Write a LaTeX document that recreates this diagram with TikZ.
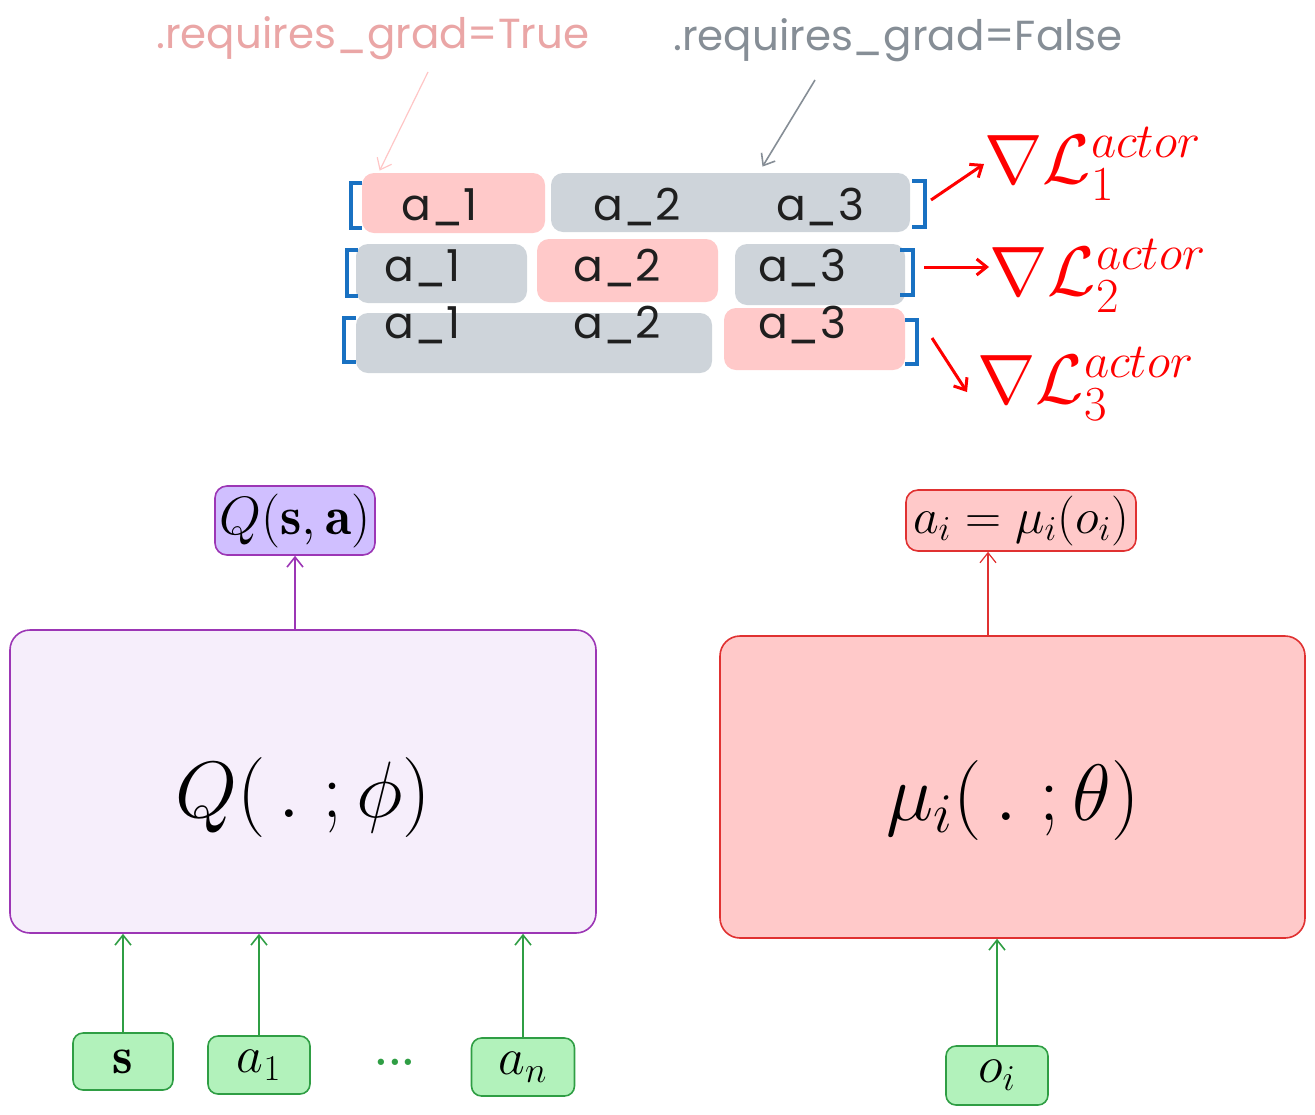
\RequirePackage{fix-cm}
\documentclass[tikz,border=0pt]{standalone}
\usepackage{amsfonts, amssymb, amsmath}
\usepackage{fontspec}
\newfontfamily\hand{Poppins}
\usetikzlibrary{arrows.meta}
\definecolor{pinkfill}{HTML}{FFC9C9}
\definecolor{greyfill}{HTML}{CED4DA}
\definecolor{truetext}{RGB}{234,166,166}
\definecolor{falsetext}{HTML}{868E96}
\definecolor{bracket}{HTML}{1971C2}
\definecolor{purp}{HTML}{9C36B5}
\definecolor{purpfill}{HTML}{D0BFFF}
\definecolor{lavender}{RGB}{246,238,251}
\definecolor{redline}{HTML}{E03131}
\definecolor{grn}{HTML}{2F9E44}
\definecolor{grnfill}{HTML}{B2F2BB}
\tikzset{hd/.style={font=\hand\fontsize{21}{21}\selectfont}}
\tikzset{cell/.style={font=\hand\fontsize{22}{22}\selectfont, text=black!88}}
\tikzset{pk/.style={fill=pinkfill, rounded corners=6pt, inner sep=0pt}}
\tikzset{gy/.style={fill=greyfill, rounded corners=6pt, inner sep=0pt}}
\tikzset{brk/.style={bracket, line width=2pt}}
\tikzset{loss/.style={red, inner sep=0pt, anchor=west, font=\fontsize{35}{40}\selectfont}}
\tikzset{inp/.style={draw=grn, fill=grnfill, rounded corners=5pt, line width=0.8pt, font=\fontsize{26}{26}\selectfont}}
\tikzset{tip/.style={-{Straight Barb[length=5pt,width=8pt]}}}

\begin{document}
\begin{tikzpicture}[x=0.5pt,y=-0.5pt]
  \useasboundingbox (0,0) rectangle (1315,1114);

  \node[hd, text=truetext] (rgT) at (373,38) {.requires\_grad=True};
  \node[hd, text=falsetext] (rgF) at (898,40) {.requires\_grad=False};
  \coordinate (tT) at (428,72);
  \coordinate (tF) at (815,80);

  % row 1
  \node[pk, minimum width=91.5pt, minimum height=30pt] (p1) at (453.5,203) {};
  \node[gy, minimum width=179.5pt, minimum height=29.5pt] (g1) at (730.5,202.5) {};
  \node[cell] (a11) at (440,207) {a\_1};
  \node[cell] (a12) at (637,207) {a\_2};
  \node[cell] (a13) at (820,207) {a\_3};
  \draw[brk] (362,183) -- (351,183) -- (351,228) -- (362,228);
  \draw[brk] (912,181) -- (925,181) -- (925,227) -- (912,227);

  % row 2
  \node[gy, minimum width=85.5pt, minimum height=29.5pt] (g21) at (441.5,273.5) {};
  \node[pk, minimum width=90.5pt, minimum height=31.5pt] (p2) at (627.5,270.5) {};
  \node[gy, minimum width=85pt, minimum height=30.5pt] (g23) at (820,274.5) {};
  \node[cell] (a21) at (423,268) {a\_1};
  \node[cell] (a22) at (617,268) {a\_2};
  \node[cell] (a23) at (802,268) {a\_3};
  \draw[brk] (358,250) -- (347,250) -- (347,296) -- (358,296);
  \draw[brk] (900,250) -- (913,250) -- (913,295) -- (900,295);

  % row 3
  \node[gy, minimum width=178pt, minimum height=30pt] (g3) at (534,343) {};
  \node[pk, minimum width=90.5pt, minimum height=31pt] (p3) at (814.5,339) {};
  \node[cell] (a31) at (423,325) {a\_1};
  \node[cell] (a32) at (617,325) {a\_2};
  \node[cell] (a33) at (802,325) {a\_3};
  \draw[brk] (356,318) -- (344,318) -- (344,362) -- (356,362);
  \draw[brk] (905,320) -- (917,320) -- (917,364) -- (905,364);

  \draw[tip, pinkfill!80!red!60, line width=0.6pt] (tT) -- ([xshift=9pt,yshift=1pt]p1.north west);
  \draw[tip, falsetext, line width=0.8pt] (tF) -- ([xshift=16pt,yshift=3pt]g1.north);

  \node[loss] (L1) at (984,164) {$\nabla\mathcal{L}_1^{actor}$};
  \node[loss] (L2) at (989,276) {$\nabla\mathcal{L}_2^{actor}$};
  \node[loss] (L3) at (977,384) {$\nabla\mathcal{L}_3^{actor}$};
  \coordinate (r1) at (931,200);
  \coordinate (r2) at (924,267);
  \coordinate (r3) at (932,338);
  \draw[tip, red, line width=1.5pt] (r1) -- (L1.west);
  \draw[tip, red, line width=1.5pt] (r2) -- (r2 -| L2.west);
  \draw[tip, red, line width=1.5pt] (r3) -- ([xshift=-5pt,yshift=-4pt]L3.west);

  % critic
  \node[draw=purp, fill=lavender, rounded corners=10pt, line width=0.8pt,
        minimum width=293pt, minimum height=151.5pt] (Qnet) at (303,781.5) {};
  \node[font=\fontsize{40}{48}\selectfont] (Qtxt) at (303,797) {$Q(\,.\;;\phi)$};
  \node[draw=purp, fill=purpfill, rounded corners=6pt, line width=0.8pt, inner sep=1pt,
        minimum width=80pt, minimum height=34.5pt, font=\fontsize{27}{27}\selectfont] (Qsa) at (295,520.5) {$Q(\mathbf{s},\mathbf{a})$};
  \draw[tip, purp, line width=0.8pt] (Qsa.south |- Qnet.north) -- (Qsa.south);

  % actor
  \node[draw=redline, fill=pinkfill, rounded corners=10pt, line width=0.8pt,
        minimum width=292.5pt, minimum height=151pt] (mu) at (1012.5,787) {};
  \node[font=\fontsize{40}{48}\selectfont] (mutxt) at (1013,800) {$\mu_i(\,.\;;\theta)$};
  \node[draw=redline, fill=pinkfill, rounded corners=6pt, line width=0.8pt, inner sep=1pt,
        minimum width=115pt, minimum height=30.5pt, font=\fontsize{25}{25}\selectfont] (ai) at (1021,520.5) {$a_i=\mu_i(o_i)$};
  \draw[tip, redline, line width=0.6pt] ([xshift=-12.25pt]mu.north) -- ([xshift=-16.5pt]ai.south);

  % inputs
  \node[inp, minimum width=50pt, minimum height=28.5pt] (s) at (123,1061.5) {$\mathbf{s}$};
  \node[inp, minimum width=51pt, minimum height=29pt] (a1) at (259,1065) {$a_1$};
  \node[text=grn, font=\bfseries\fontsize{22}{22}\selectfont] (dots) at (395,1062) {...};
  \node[inp, minimum width=51.5pt, minimum height=29pt] (an) at (523,1067) {$a_n$};
  \node[inp, minimum width=51pt, minimum height=29.5pt] (oi) at (997,1075.5) {$o_i$};
  \draw[tip, grn, line width=0.8pt] (s) -- (s |- Qnet.south);
  \draw[tip, grn, line width=0.8pt] (a1) -- (a1 |- Qnet.south);
  \draw[tip, grn, line width=0.8pt] (an) -- (an |- Qnet.south);
  \draw[tip, grn, line width=0.8pt] (oi) -- (oi |- mu.south);
\end{tikzpicture}
\end{document}
